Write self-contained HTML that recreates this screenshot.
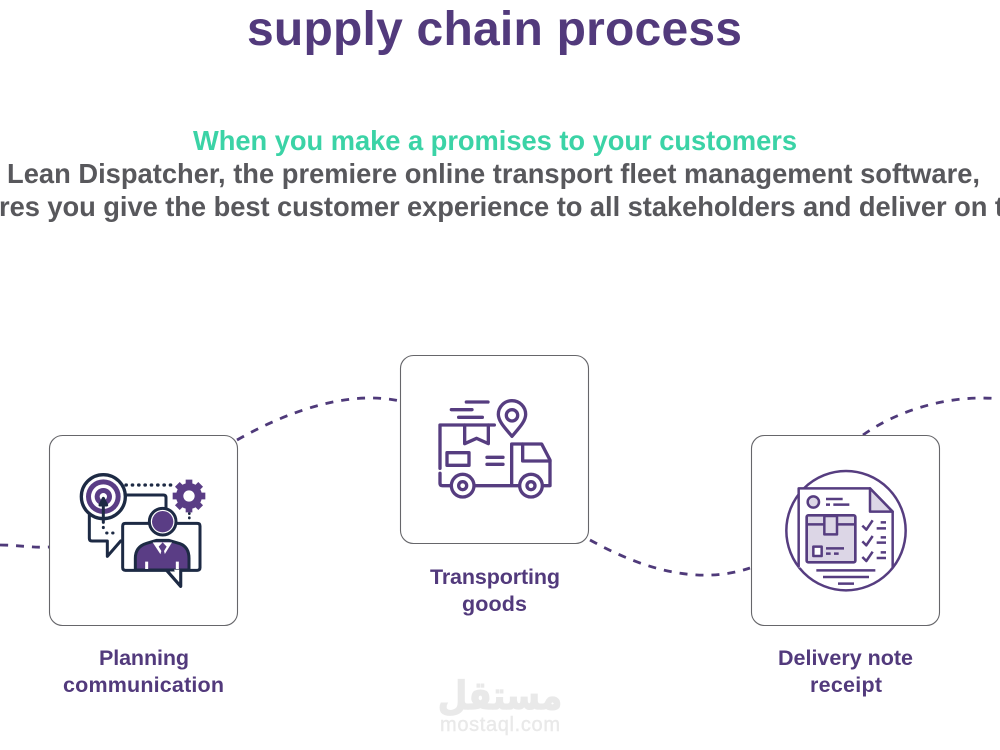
<!DOCTYPE html>
<html><head><meta charset="utf-8"><style>
html,body{margin:0;padding:0;background:#fff;width:1000px;height:750px;overflow:hidden}
svg{display:block}
text{font-family:"Liberation Sans",sans-serif;font-weight:bold}
.l{font-size:21.5px;fill:#523a7c}
.b{fill:#fff;stroke:#66666a;stroke-width:1.1}
</style></head><body>
<svg width="1000" height="750" viewBox="0 0 1000 750" xmlns="http://www.w3.org/2000/svg">
<rect width="1000" height="750" fill="#fff"/>
<text x="247" y="45" font-size="48" fill="#523a7c" textLength="495">supply chain process</text>
<text x="193" y="150" font-size="27.300" fill="#3bd3a6" textLength="604">When you make a promises to your customers</text>
<text x="7" y="183" font-size="27.300" fill="#58585c" textLength="973">Lean Dispatcher, the premiere online transport fleet management software,</text>
<text x="-1" y="216" font-size="27.300" fill="#58585c" textLength="1005">res you give the best customer experience to all stakeholders and deliver on t</text>

<g fill="none" stroke="#4f3a7a" stroke-width="2.800" stroke-dasharray="8 8">
<path d="M0 545 C18 545 32 548 49 547"/>
<path d="M237 440 C272 420 340 388 400 401"/>
<path d="M590 540 C630 562 690 588 750 568"/>
<path d="M863 435 C895 412 945 395 995 398.500"/>
</g>

<rect class="b" x="49.500" y="435.500" width="188" height="190" rx="13"/>
<rect class="b" x="400.500" y="355.500" width="188" height="188" rx="13"/>
<rect class="b" x="751.500" y="435.500" width="188" height="190" rx="13"/>

<!-- icon 1 -->
<g transform="translate(50 435) scale(.33333)" fill="none" stroke="#1d2a44" stroke-width="9" stroke-linejoin="round" stroke-linecap="round">
<path d="M118 240V310Q118 318 126 318H172V364L212 318"/>
<path d="M225 180H340Q348 180 348 188V225"/>
<path d="M298 265H226Q218 265 218 273V398Q218 406 226 406H350L392 454V406H442Q450 406 450 398V273Q450 265 442 265H378"/>
<circle cx="160" cy="185" r="66" fill="#fff" stroke-width="10"/>
<circle cx="160" cy="185" r="52" fill="#5a3d85" stroke="none"/>
<circle cx="160" cy="185" r="37" fill="#fff" stroke="none"/>
<circle cx="160" cy="185" r="26" fill="#5a3d85" stroke="none"/>
<circle cx="160" cy="185" r="11" fill="#fff" stroke="none"/>
<path d="M160 262V195" />
<path d="M150 210L160 190L170 210Z" fill="#1d2a44"/>
<path d="M228 150H372" stroke-dasharray="1 18" stroke-width="10"/>
<path d="M160 277V280M170 294H205" stroke-dasharray="1 17" stroke-width="9"/>
<path d="M418 235V258" stroke-dasharray="1 12" stroke-width="8"/>
<g stroke="#5a3d85" stroke-linecap="butt">
<circle cx="417" cy="183" r="28" stroke-width="22"/>
<path d="M417 134V150M417 216V232M368 183H384M450 183H466M382 148L394 160M440 206L452 218M452 148L440 160M394 206L382 218" stroke-width="20"/>
</g>
<circle cx="338" cy="260" r="40" fill="#fff"/>
<circle cx="338" cy="260" r="32" fill="#5a3d85" stroke="none"/>
<path d="M256 405V370Q256 335 290 325L320 316H356L390 326Q417 336 417 370V405Z" fill="#5a3d85"/>
<path d="M308 322H366L338 368Z" fill="#fff" stroke="none"/>
<path d="M338 322L350 335L342 348L350 376H326L334 348L326 335Z" fill="#5a3d85" stroke="none"/>
<path d="M290 380V402M382 380V402" stroke="#fff" stroke-width="9" stroke-linecap="butt"/>
<path d="M372 404L392 450V404Z" fill="#fff" stroke="none"/>
<path d="M350 406L392 454V406" />
</g>

<!-- icon 2 -->
<g transform="translate(400 355) scale(.33333)" fill="none" stroke="#563d80" stroke-width="10" stroke-linejoin="round" stroke-linecap="round">
<path d="M199 141H264M154 164H216M176 187H247"/>
<path d="M120 340V210H283"/>
<path d="M120 355V385Q120 392 128 392H152"/>
<path d="M194 210V266L230 250L265 266V210"/>
<rect x="141" y="293" width="66" height="38"/>
<path d="M261 307H309M261 328H309"/>
<path d="M226 392H356M335 390V267H425L450 315V392H432"/>
<path d="M368 267V318H450"/>
<circle cx="188" cy="392" r="34"/><circle cx="188" cy="392" r="12"/>
<circle cx="393" cy="392" r="34"/><circle cx="393" cy="392" r="12"/>
<path d="M336 244C318 222 295 200 295 178A41 41 0 0 1 377 178C377 200 354 222 336 244Z"/>
<circle cx="336" cy="181" r="17"/>
</g>

<!-- icon 3 -->
<g transform="translate(750 435) scale(.33333)" fill="none" stroke="#563d80" stroke-width="7.500" stroke-linejoin="round" stroke-linecap="butt">
<circle cx="288" cy="287" r="179"/>
<path d="M146 160H360L428 230V397H146Z" fill="#fff" stroke="none"/>
<path d="M146 396V160H360L428 230V398"/>
<path d="M360 160V230H428Z" fill="#dcd6e6"/>
<rect x="170" y="241" width="146" height="141" rx="5" fill="#dcd6e6" stroke-width="8"/>
<path d="M170 268H316" />
<rect x="223" y="243" width="38" height="55" fill="#dcd6e6"/>
<rect x="190" y="335" width="25" height="28" fill="#fff"/>
<circle cx="190" cy="201" r="17" fill="#dcd6e6"/>
<path d="M228 192H278M228 209H240M250 209H298M228 340H282M228 356H242M252 356H266"/>
<path d="M337 272L349 284L368 256M337 319L349 331L368 303M337 366L349 378L368 350" stroke-width="7.500"/>
<path d="M392 262H408M380 280H408M392 307H408M380 323H408M392 352H408M380 369H408"/>
<path d="M199 406H376M219 426H357M264 446H312"/>
</g>

<text class="l" x="99" y="665" textLength="90">Planning</text>
<text class="l" x="63" y="692" textLength="161">communication</text>
<text class="l" x="430" y="584" textLength="130">Transporting</text>
<text class="l" x="462" y="611" textLength="65">goods</text>
<text class="l" x="778" y="665" textLength="135">Delivery note</text>
<text class="l" x="810" y="692" textLength="72">receipt</text>

<text transform="translate(500 709) scale(.74 .85)" x="0" y="0" font-size="46" fill="#e9e9e9" stroke="#e9e9e9" stroke-width="1.500" text-anchor="middle" style="font-family:'DejaVu Sans',sans-serif">مستقل</text>
<text x="440" y="731" font-size="20" fill="#e9e9e9" textLength="120" style="font-weight:normal" stroke="#e9e9e9" stroke-width=".4">mostaql.com</text>
</svg>
</body></html>
